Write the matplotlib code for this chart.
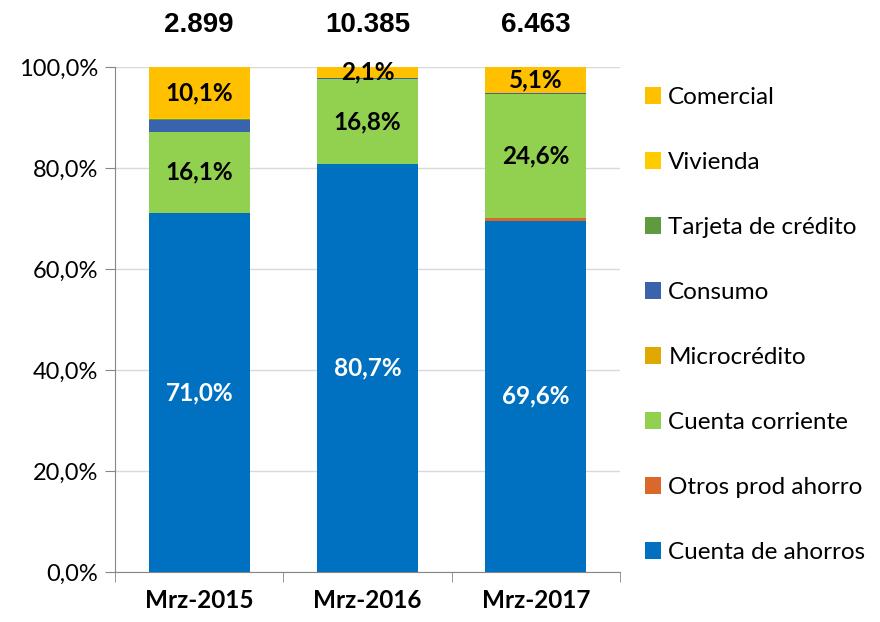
import matplotlib
matplotlib.use("Agg")
import matplotlib.pyplot as plt
import numpy as np

plt.rcParams.update({
    "font.family": ["Lato", "DejaVu Sans"],
    "font.size": 17,
})

periods = ["Mrz-2015", "Mrz-2016", "Mrz-2017"]
totals = ["2.899", "10.385", "6.463"]

# stacking order, bottom to top (shares in %)
series = ["Cuenta de ahorros", "Otros prod ahorro", "Cuenta corriente", "Microcrédito",
          "Consumo", "Tarjeta de crédito", "Vivienda", "Comercial"]
cuenta_ahorros = [71.0, 80.7, 69.6]
otros_ahorro = [0.1, 0.1, 0.4]
cuenta_corriente = [16.1, 16.8, 24.6]
microcredito = [0.0, 0.0, 0.0]
consumo = [2.4, 0.3, 0.2]
tarjeta = [0.1, 0.0, 0.1]
vivienda = [0.2, 0.0, 0.0]
comercial = [10.1, 2.1, 5.1]

colors = ["#0070C0", "#D9692A", "#92D050", "#E0A800",
          "#3A63AE", "#5F9A3F", "#FFCC00", "#FFC000"]
labelled = {"Cuenta de ahorros": "white", "Cuenta corriente": "black", "Comercial": "black"}

values = [cuenta_ahorros, otros_ahorro, cuenta_corriente, microcredito,
          consumo, tarjeta, vivienda, comercial]

fig = plt.figure(figsize=(8.8, 6.22), dpi=100)
ax = fig.add_axes([0.1307, 0.0804, 0.574, 0.8119])

x = np.arange(len(periods))
bottom = np.zeros(len(periods))
handles = []
for name, vals, col in zip(series, values, colors):
    vals = np.array(vals)
    b = ax.bar(x, vals, width=0.6, bottom=bottom, color=col, label=name, zorder=3)
    handles.append(b)
    if name in labelled:
        for xi, v, b0 in zip(x, vals, bottom):
            ax.text(xi, b0 + v / 2, f"{v:.1f}%".replace(".", ","), ha="center", va="center",
                    fontsize=17.5, fontweight="bold", color=labelled[name], zorder=5)
    bottom += vals

for xi, t in zip(x, totals):
    ax.text(xi, 108.3, t, ha="center", va="center", fontsize=20, fontweight="bold",
            family="Liberation Sans", clip_on=False)

ax.set_xlim(-0.5, 2.5)
ax.set_ylim(0, 100)
ax.set_yticks(np.arange(0, 101, 20))
ax.set_yticklabels([f"{v:.1f}%".replace(".", ",") for v in np.arange(0, 101, 20)])
ax.yaxis.grid(True, color="#D9D9D9", linewidth=1, zorder=0)
ax.set_xticks(x)
ax.set_xticklabels(periods, fontweight="bold", fontsize=17.5)
ax.set_xticks([-0.5, 0.5, 1.5, 2.5], minor=True)
ax.tick_params(axis="x", which="major", length=0, pad=12)
ax.tick_params(axis="x", which="minor", length=7, color="#868686")
ax.tick_params(axis="y", length=7, color="#868686", pad=5)
for s in ["top", "right"]:
    ax.spines[s].set_visible(False)
for s in ["left", "bottom"]:
    ax.spines[s].set_color("#868686")

fig.legend(handles[::-1], series[::-1], loc="upper left", bbox_to_anchor=(0.733, 0.86),
           frameon=False, fontsize=17.5, labelspacing=1.81, handlelength=0.66,
           handleheight=0.66, handletextpad=0.3, borderaxespad=0, borderpad=0)

fig.savefig("out.png", dpi=100)
